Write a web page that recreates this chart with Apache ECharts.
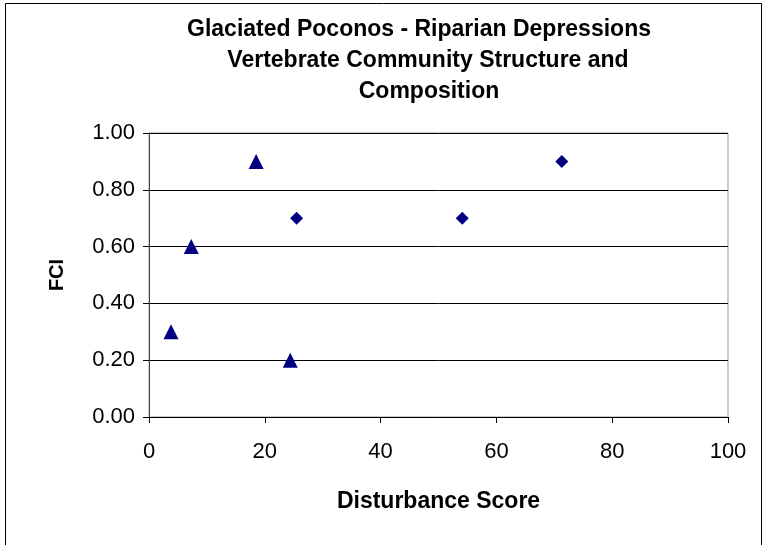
<!DOCTYPE html>
<html>
<head>
<meta charset="utf-8">
<script src="https://cdn.jsdelivr.net/npm/echarts@6/dist/echarts.min.js"></script>
<style>html,body{margin:0;padding:0;background:#fff}#c{width:765px;height:545px}</style>
</head>
<body>
<div id="c"></div>
<script>
const titleLines = ["Glaciated Poconos - Riparian Depressions", "Vertebrate Community Structure and", "Composition"];
const xAxisTitle = "Disturbance Score";
const yAxisTitle = "FCI";
const diamondX = [25.5, 54.1, 71.3];
const diamondY = [0.70, 0.70, 0.90];
const triangleX = [18.5, 7.3, 3.8, 24.4];
const triangleY = [0.90, 0.60, 0.30, 0.20];

const chart = echarts.init(document.getElementById('c'), null, {renderer: 'canvas'});
const font = "'Liberation Sans', Arial, sans-serif";
const pairs = (xs, ys) => xs.map((x, i) => [x, ys[i]]);

chart.setOption({
  animation: false,
  backgroundColor: '#ffffff',
  grid: {left: 149, right: 37, top: 133, bottom: 128, show: true, borderColor: '#999999', borderWidth: 1},
  graphic: [
    {type: 'rect', shape: {x: 5.5, y: 3.5, width: 756, height: 560}, style: {fill: 'none', stroke: '#000', lineWidth: 1}, z: -1},
    {type: 'text', x: 419, y: 30, style: {text: titleLines[0], font: "bold 23px " + font, fill: '#000', textAlign: 'center', textVerticalAlign: 'middle'}},
    {type: 'text', x: 428, y: 61, style: {text: titleLines[1], font: "bold 23px " + font, fill: '#000', textAlign: 'center', textVerticalAlign: 'middle'}},
    {type: 'text', x: 429, y: 92, style: {text: titleLines[2], font: "bold 23px " + font, fill: '#000', textAlign: 'center', textVerticalAlign: 'middle'}}
  ],
  xAxis: {
    type: 'value', min: 0, max: 100, interval: 20,
    name: xAxisTitle, nameLocation: 'middle', nameGap: 73,
    nameTextStyle: {fontFamily: font, fontWeight: 'bold', fontSize: 23, color: '#000'},
    axisLine: {show: true, lineStyle: {color: '#000', width: 1}},
    axisTick: {show: true, inside: false, length: 6, lineStyle: {color: '#000'}},
    axisLabel: {fontFamily: font, fontSize: 22, color: '#000', margin: 24},
    splitLine: {show: false}
  },
  yAxis: {
    type: 'value', min: 0, max: 1, interval: 0.2,
    name: yAxisTitle, nameLocation: 'middle', nameGap: 82, nameRotate: 90,
    nameTextStyle: {fontFamily: font, fontWeight: 'bold', fontSize: 20, color: '#000'},
    axisLine: {show: true, lineStyle: {color: '#444', width: 1}},
    axisTick: {show: true, inside: false, length: 6, lineStyle: {color: '#000'}},
    axisLabel: {fontFamily: font, fontSize: 22, color: '#000', margin: 14, formatter: v => v.toFixed(2)},
    splitLine: {show: true, lineStyle: {color: '#000', width: 1}}
  },
  series: [
    {type: 'scatter', name: 'diamond', data: pairs(diamondX, diamondY), symbol: 'diamond', symbolSize: 13, itemStyle: {color: '#000080', opacity: 1}},
    {type: 'scatter', name: 'triangle', data: pairs(triangleX, triangleY), symbol: 'triangle', symbolSize: 15, itemStyle: {color: '#000080', opacity: 1}}
  ]
});
</script>
</body>
</html>
